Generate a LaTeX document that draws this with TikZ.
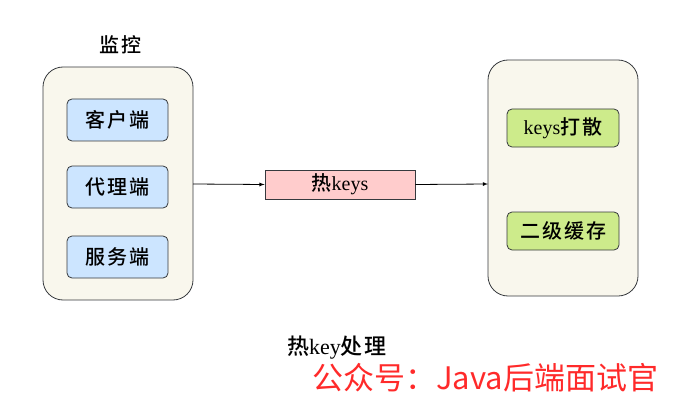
\documentclass[tikz,border=0pt]{standalone}
\usepackage{fontspec}
\setmainfont{Liberation Serif}
\newfontfamily\cjk{Noto Sans CJK SC}
\newfontfamily\cjkm{Noto Sans CJK SC Medium}[LetterSpace=10]
\usepackage{xcolor}
\definecolor{panelfill}{HTML}{F9F7ED}
\definecolor{edgegray}{HTML}{36393D}
\definecolor{bluefill}{HTML}{CCE5FF}
\definecolor{pinkfill}{HTML}{FFCCCC}
\definecolor{greenfill}{HTML}{CDEB8B}
\definecolor{markred}{HTML}{FF2A2A}

\begin{document}
\begin{tikzpicture}[x=1pt,y=-1pt,
  panel/.style={draw=edgegray,fill=panelfill,rounded corners=20pt,line width=0.8pt},
  item/.style={draw=edgegray,rounded corners=5pt,line width=0.8pt,
    minimum width=101pt,minimum height=42pt,font=\fontsize{20}{24}\selectfont\cjkm},
  fix/.style={item,fill=greenfill,minimum width=112pt,minimum height=38pt},
  link/.style={->,>=latex,line width=0.8pt}]
  \useasboundingbox (0,0) rectangle (677,401);
  % monitoring side
  \node[font=\fontsize{20}{24}\selectfont\cjkm] (montitle) at (120,45) {监控};
  \draw[panel] (43,67) rectangle (193,300);
  \coordinate (monout) at (193,184);
  \node[item,fill=bluefill] (client) at (117.5,120) {客户端};
  \node[item,fill=bluefill] (proxy) at (117.5,187) {代理端};
  \node[item,fill=bluefill] (server) at (117.5,257) {服务端};
  % hot key
  \node[draw=edgegray,fill=pinkfill,line width=0.8pt,minimum width=150pt,
    minimum height=29pt,font=\fontsize{20}{24}\selectfont] (hotkey) at (340,184.5) {{\cjkm 热}keys};
  % handling side
  \draw[panel] (488,60) rectangle (638,296);
  \coordinate (fixin) at (488,184);
  \node[fix] (spread) at (563,128) {\rmfamily keys{\cjkm 打散}};
  \node[fix] (cache) at (563,231) {二级缓存};
  \draw[link] (monout) -- (hotkey.west);
  \draw[link] (hotkey.east) -- (fixin);
  % captions
  \node[font=\fontsize{22}{26}\selectfont] (caption) at (337,348) {{\cjkm 热}key{\cjkm 处理}};
  \node[font=\fontsize{31}{36}\selectfont\cjk,text=markred] (mark) at (485,378) {公众号：Java后端面试官};
\end{tikzpicture}
\end{document}
